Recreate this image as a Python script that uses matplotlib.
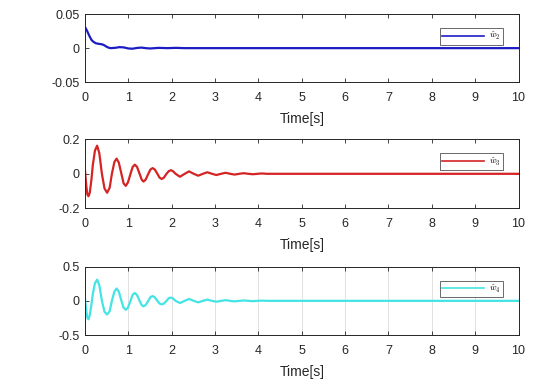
import matplotlib
matplotlib.use("Agg")
import matplotlib.pyplot as plt

# ---- data ----
t_w2 = [0.00, 0.05, 0.10, 0.15, 0.20, 0.25, 0.30, 0.35, 0.40, 0.45, 0.50, 0.55,
        0.60, 0.70, 0.80, 0.90, 1.00, 1.10, 1.20, 1.30, 1.40, 1.50, 1.70, 1.90,
        2.10, 2.30, 10.0]
w2 = [0.031, 0.025, 0.018, 0.012, 0.009, 0.0072, 0.0065, 0.006, 0.0055, 0.004,
      0.002, 0.0005, 0.0, 0.0005, 0.0015, 0.001, -0.0005, -0.0008, 0.0003,
      0.0008, 0.0, -0.0005, 0.0004, 0.0, 0.0004, 0.0, 0.0]

t_osc = [0.00, 0.03, 0.055, 0.08, 0.11, 0.15, 0.18, 0.23, 0.28, 0.33, 0.39,
         0.45, 0.51, 0.57, 0.62, 0.68, 0.73, 0.78, 0.84, 0.89, 0.94, 0.99,
         1.05, 1.10, 1.15, 1.20, 1.26, 1.31, 1.35, 1.40, 1.46, 1.51, 1.56,
         1.61, 1.67, 1.72, 1.77, 1.82, 1.88, 1.93, 1.98, 2.03, 2.09, 2.19,
         2.30, 2.40, 2.51, 2.61, 2.72, 2.82, 2.93, 3.03, 3.14, 3.24, 3.35,
         3.45, 3.56, 3.66, 3.77, 3.87, 3.98, 4.08, 4.19, 4.30, 10.0]

w3 = [0.02, -0.07, -0.12, -0.13, -0.11, -0.03, 0.05, 0.135, 0.163, 0.12, 0.0,
      -0.085, -0.11, -0.08, 0.0, 0.07, 0.088, 0.065, 0.0, -0.055, -0.07, -0.05,
      0.0, 0.04, 0.053, 0.04, 0.0, -0.035, -0.045, -0.033, 0.0, 0.025, 0.033,
      0.025, 0.0, -0.022, -0.03, -0.022, 0.0, 0.015, 0.021, 0.015, 0.0, -0.017,
      0.0, 0.014, 0.0, -0.011, 0.0, 0.009, 0.0, -0.007, 0.0, 0.006, 0.0,
      -0.0045, 0.0, 0.0035, 0.0, -0.0025, 0.0, 0.002, 0.0, 0.0, 0.0]

w4 = [0.03, -0.15, -0.25, -0.27, -0.21, -0.05, 0.1, 0.26, 0.31, 0.23, 0.0,
      -0.16, -0.2, -0.15, 0.0, 0.14, 0.18, 0.135, 0.0, -0.1, -0.13, -0.1,
      0.0, 0.09, 0.115, 0.085, 0.0, -0.065, -0.08, -0.06, 0.0, 0.055, 0.07,
      0.052, 0.0, -0.04, -0.052, -0.04, 0.0, 0.037, 0.048, 0.036, 0.0, -0.032,
      0.0, 0.028, 0.0, -0.022, 0.0, 0.018, 0.0, -0.013, 0.0, 0.01, 0.0,
      -0.008, 0.0, 0.006, 0.0, -0.0045, 0.0, 0.0035, 0.0, 0.0, 0.0]

x_ticks = list(range(0, 11))
panels = [
    (t_w2, w2, '#1c1cc4', r'$\hat{w}_2$', (-0.05, 0.05), [-0.05, 0, 0.05], ['-0.05', '0', '0.05'], False),
    (t_osc, w3, '#d42424', r'$\hat{w}_3$', (-0.2, 0.2), [-0.2, 0, 0.2], ['-0.2', '0', '0.2'], False),
    (t_osc, w4, '#44e4e4', r'$\hat{w}_4$', (-0.5, 0.5), [-0.5, 0, 0.5], ['-0.5', '0', '0.5'], True),
]
# axes boxes in figure fractions: left, bottom, width, height
boxes = [(0.1574, 0.7885, 0.8028, 0.1755),
         (0.1574, 0.4645, 0.8028, 0.1774),
         (0.1574, 0.1388, 0.8028, 0.1756)]

plt.rcParams['font.family'] = ['Liberation Sans', 'DejaVu Sans']
plt.rcParams['mathtext.fontset'] = 'cm'

fig = plt.figure(figsize=(5.4, 3.89), dpi=100)
edge = '#262626'
for (t, y, col, lab, ylim, yt, ytl, grid), box in zip(panels, boxes):
    ax = fig.add_axes(box)
    ax.plot(t, y, color=col, lw=1.6, label=lab)
    ax.set_xlim(0, 10)
    ax.set_ylim(*ylim)
    ax.set_xticks(x_ticks)
    ax.set_yticks(yt)
    ax.set_yticklabels(ytl)
    ax.tick_params(direction='in', top=True, right=True, length=3, width=0.6,
                   labelsize=9, colors=edge)
    ax.tick_params(axis='x', pad=7)
    ax.tick_params(axis='y', pad=4)
    for s in ax.spines.values():
        s.set_color(edge)
        s.set_linewidth(0.7)
    if grid:
        ax.grid(True, axis='x', color='#dcdcdc', lw=0.6)
        ax.set_axisbelow(True)
    ax.set_xlabel('Time[s]', fontsize=10, color=edge, labelpad=6)
    leg = ax.legend(loc='upper right', bbox_to_anchor=(0.975, 0.86),
                    fontsize=6.5, frameon=True, fancybox=False,
                    handlelength=4.6, borderpad=0.25, handletextpad=0.6)
    leg.get_frame().set_edgecolor(edge)
    leg.get_frame().set_linewidth(0.6)
    for ln in leg.get_lines():
        ln.set_linewidth(1.2)

fig.savefig('out.png', dpi=100)
